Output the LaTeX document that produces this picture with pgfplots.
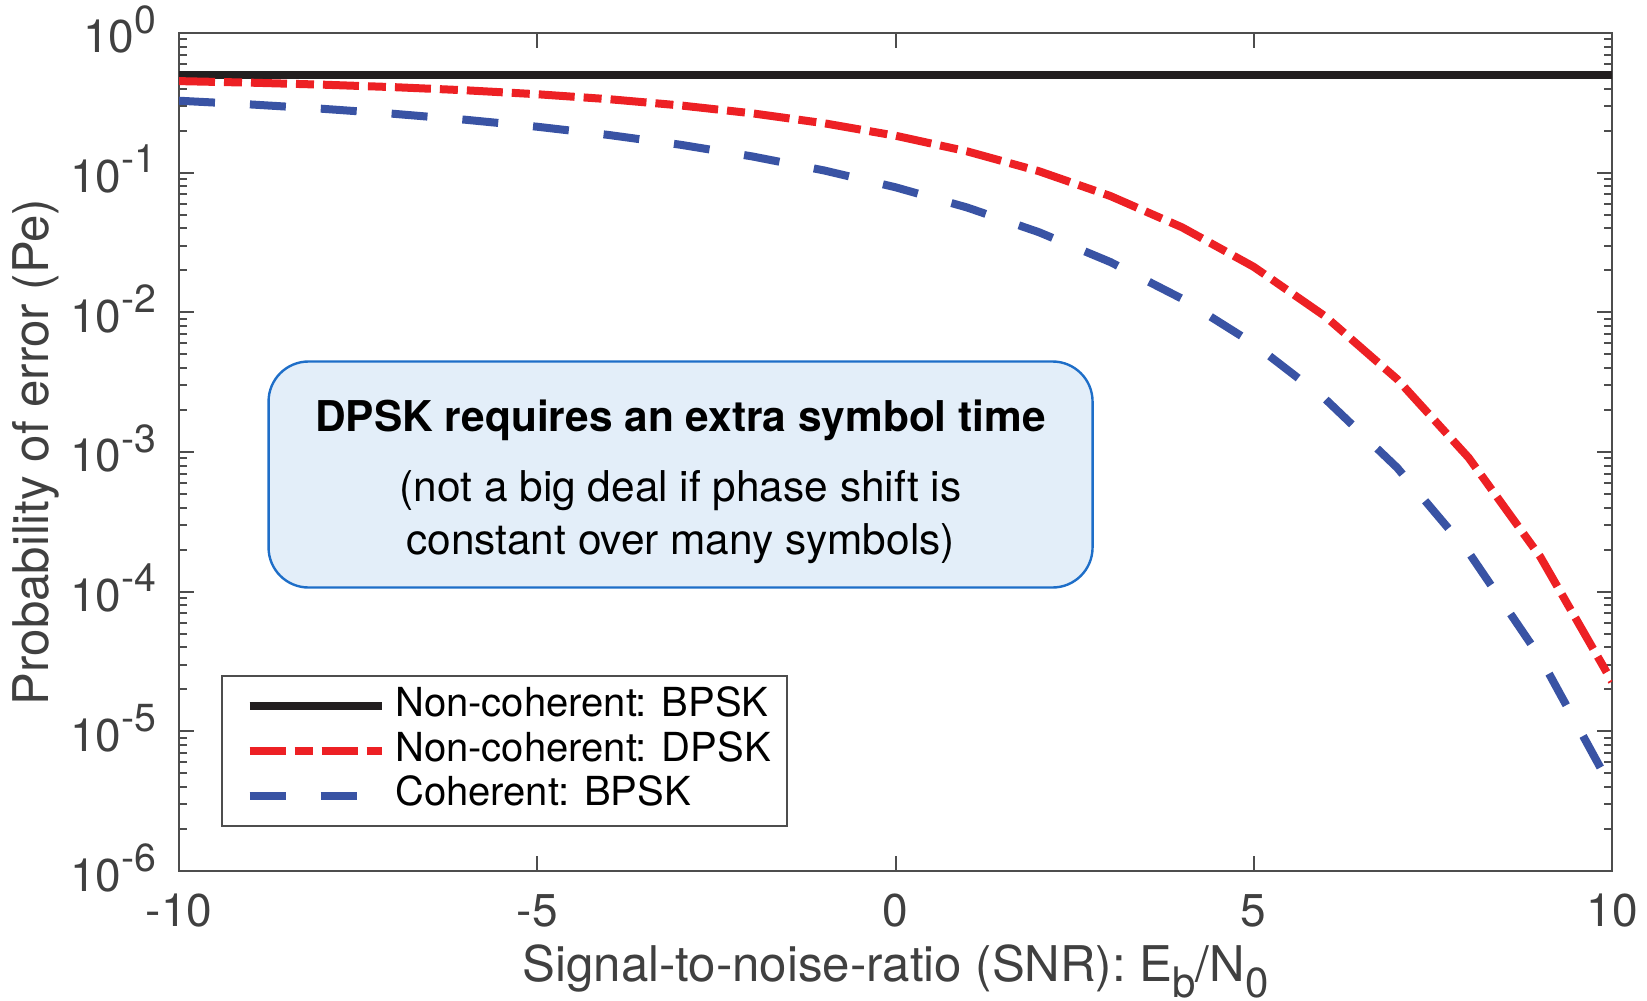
\documentclass[border=0pt]{standalone}
\usepackage{fontspec}
\setmainfont{TeX Gyre Heros}
\usepackage{pgfplots}
\pgfplotsset{compat=1.18}
\usetikzlibrary{calc}

\definecolor{curvered}{RGB}{237,32,36}
\definecolor{curveblue}{RGB}{57,83,164}
\definecolor{curveblack}{RGB}{35,31,32}
\definecolor{axisgrey}{RGB}{77,77,77}
\definecolor{labelgrey}{RGB}{64,64,64}
\definecolor{boxfill}{RGB}{227,238,249}
\definecolor{boxedge}{RGB}{30,110,200}

% MATLAB-like large superscript / subscript
\newcommand{\tsup}[1]{\raisebox{0.43em}{\fontsize{9.8}{10}\selectfont #1}}
\newcommand{\lsub}[1]{\raisebox{-0.34em}{\fontsize{10.5}{11}\selectfont #1}}

\begin{document}
\begin{tikzpicture}
\begin{axis}[
    width=358.25pt, height=209.5pt,
    scale only axis,
    ymode=log,
    xmin=-10, xmax=10,
    ymin=1e-6, ymax=1,
    axis line style={axisgrey, line width=0.5pt},
    tick style={axisgrey, line width=0.5pt},
    tick align=inside,
    tick pos=both,
    major tick length=3.75pt,
    minor tick length=2pt,
    xtick={-10,-5,0,5,10},
    xticklabels={-10,-5,0,5,10},
    ytick={1e-6,1e-5,1e-4,1e-3,1e-2,1e-1,1},
    yticklabels={10\tsup{-6},10\tsup{-5},10\tsup{-4},10\tsup{-3},10\tsup{-2},10\tsup{-1},10\tsup{0}},
    minor ytick={2e-6,3e-6,4e-6,5e-6,6e-6,7e-6,8e-6,9e-6,
                 2e-5,3e-5,4e-5,5e-5,6e-5,7e-5,8e-5,9e-5,
                 2e-4,3e-4,4e-4,5e-4,6e-4,7e-4,8e-4,9e-4,
                 2e-3,3e-3,4e-3,5e-3,6e-3,7e-3,8e-3,9e-3,
                 2e-2,3e-2,4e-2,5e-2,6e-2,7e-2,8e-2,9e-2,
                 0.2,0.3,0.4,0.5,0.6,0.7,0.8,0.9},
    ticklabel style={font=\fontsize{11.5}{13}\selectfont, text=labelgrey, inner sep=0pt},
    yticklabel style={anchor=base east, xshift=-5.5pt, yshift=-5pt},
    xticklabel style={anchor=base, yshift=-14pt},
    xlabel={Signal-to-noise-ratio (SNR): E\lsub{b}/N\lsub{0}},
    ylabel={Probability of error (Pe)},
    label style={font=\fontsize{12.3}{14}\selectfont, text=labelgrey},
    xlabel style={at={(rel axis cs:0.5,-0.1313)}, anchor=base},
    ylabel style={at={(rel axis cs:-0.0737,0.5)}, anchor=south},
    legend style={
        at={(0.029,0.0525)}, anchor=south west,
        draw=axisgrey, line width=0.5pt,
        font=\fontsize{10}{12}\selectfont,
        inner xsep=3pt, inner ysep=2pt,
        nodes={inner sep=1pt, text height=7.2pt, text depth=2pt},
        row sep=0pt, column sep=1.4pt,
    },
    legend cell align=left,
    legend image code/.code={
        \path (0pt,0pt);
        \draw[#1] (3pt,0pt) -- (36pt,0pt);
    },
]

\addplot[curveblack, line width=2pt] coordinates {
    (-10,0.5) (10,0.5)
};
\addlegendentry{Non-coherent: BPSK}

\addplot[curvered, line width=2pt, dash pattern=on 9pt off 2.25pt on 4.5pt off 2.25pt] coordinates {
    (-10,0.4524) (-9,0.4409) (-8,0.4267) (-7,0.4095) (-6,0.3889)
    (-5,0.3644) (-4,0.3358) (-3,0.3029) (-2,0.2660) (-1,0.2260)
    (0,0.1839) (1,0.1420) (2,0.1025) (3,0.0680) (4,0.04057)
    (5,0.02116) (6,0.009334) (7,0.003327) (8,0.0009086) (9,0.0001773)
    (10,0.0000227)
};
\addlegendentry{Non-coherent: DPSK}

\addplot[curveblue, line width=2pt, dash pattern=on 9pt off 8.75pt] coordinates {
    (-10,0.3274) (-9,0.3079) (-8,0.2867) (-7,0.2638) (-6,0.2392)
    (-5,0.2132) (-4,0.1861) (-3,0.1584) (-2,0.1307) (-1,0.1038)
    (0,0.0786) (1,0.0563) (2,0.0375) (3,0.0229) (4,0.0125)
    (5,0.00595) (6,0.00239) (7,0.000773) (8,0.000191) (9,0.0000336)
    (10,0.00000387)
};
\addlegendentry{Coherent: BPSK}

% annotation box
\node[draw=boxedge, line width=0.6pt, fill=boxfill, rounded corners=10pt,
      minimum width=206pt, minimum height=56.5pt]
    at (axis cs:-3.0,6.9e-4) {};
\node[align=center, font=\fontsize{10.6}{13.3}\selectfont, yshift=-1.85pt]
    at (axis cs:-3.0,6.9e-4)
    {{\bfseries DPSK requires an extra symbol time}\\[4.3pt]
     (not a big deal if phase shift is\\
     constant over many symbols)};

\coordinate (bl) at (rel axis cs:0,0);
\coordinate (tr) at (rel axis cs:1,1);
\end{axis}
\pgfresetboundingbox
\useasboundingbox ($(bl)+(-44.75pt,-32.5pt)$) rectangle ($(tr)+(8.75pt,8.25pt)$);
\end{tikzpicture}
\end{document}
